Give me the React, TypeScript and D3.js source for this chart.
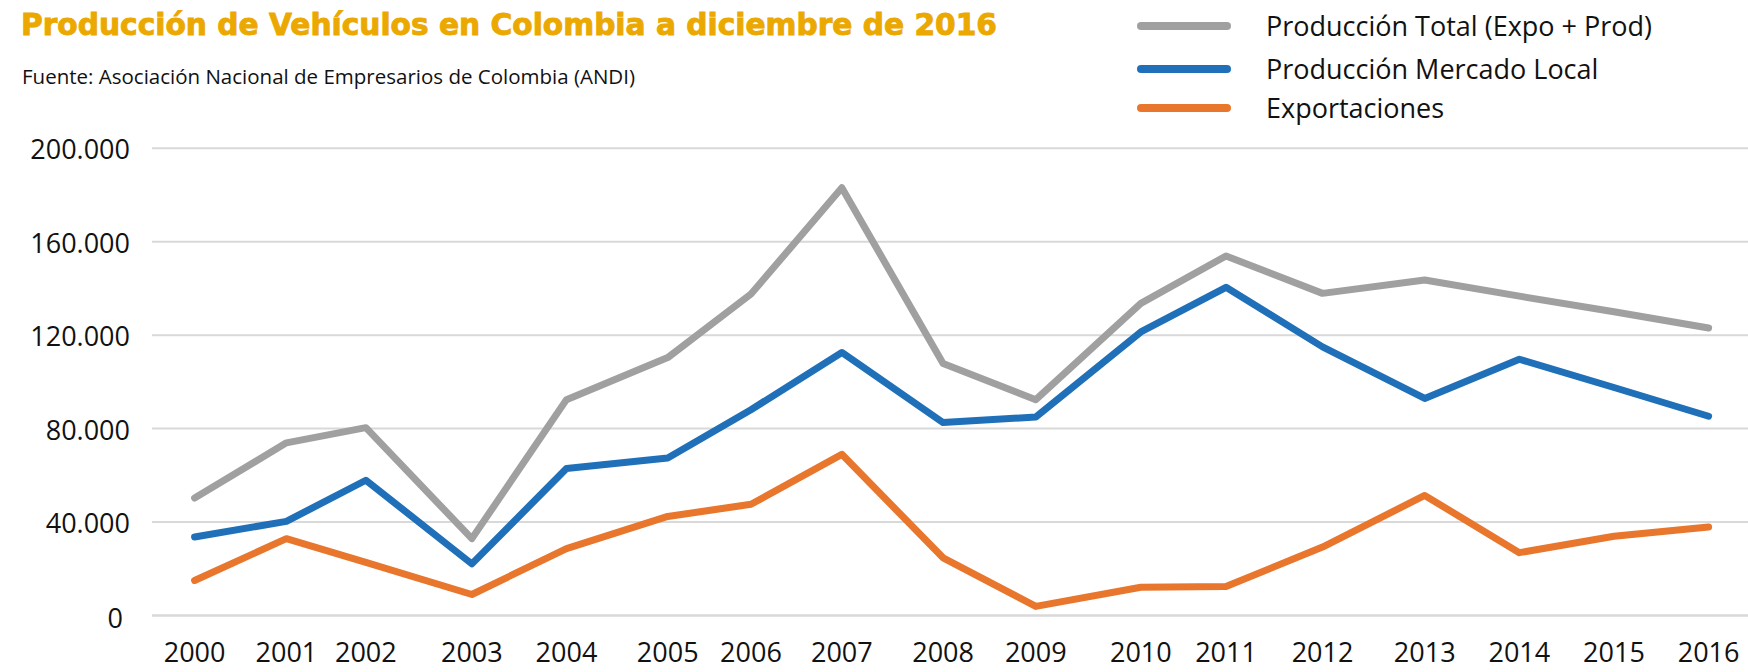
import React from "react";
import * as d3 from "d3";

const years = ["2000","2001","2002","2003","2004","2005","2006","2007","2008","2009","2010","2011","2012","2013","2014","2015","2016"];
// horizontal placement of each year on the (date-like) x axis
const xAt = [2000, 2000.97, 2001.81, 2002.93, 2003.93, 2005.0, 2005.88, 2006.84, 2007.91, 2008.89, 2010.0, 2010.9, 2011.92, 2013.0, 2014.0, 2015.0, 2016.0];
const total = [50300, 73900, 80400, 32900, 92400, 110400, 137600, 183100, 107900, 92400, 133600, 153900, 137900, 143600, 136700, 130000, 123100];
const local = [33600, 40300, 57900, 22100, 62900, 67400, 88100, 112600, 82600, 85000, 121400, 140500, 115000, 92900, 109700, 97600, 85300];
const exportsV = [15000, 32900, 22700, 9000, 28600, 42400, 47600, 69000, 24700, 3900, 12100, 12400, 29300, 51400, 26900, 33900, 37900];
const yTicks = [0, 40000, 80000, 120000, 160000, 200000];
const seriesNames = ["Producción Total (Expo + Prod)", "Producción Mercado Local", "Exportaciones"];
const seriesColors = ["#A0A0A0", "#1F70B8", "#E8762C"];

const W = 1748, H = 672;
const font = "'Open Sans', sans-serif";

export default function App() {
  const x = d3.scaleLinear().domain([2000, 2016]).range([194.6, 1708.6]);
  const y = d3.scaleLinear().domain([0, 200000]).range([615.5, 148.3]);
  const series = [total, local, exportsV];
  const line = d3.line<number>().x((_, i) => x(xAt[i])).y((d) => y(d));
  const fmt = (v: number) => d3.format(",")(v).replace(/,/g, ".");
  const legendY = [26, 69, 108];

  return (
    <svg width={W} height={H} style={{ position: "absolute", left: 0, top: 0, background: "#fff" }}>
      <rect width={W} height={H} fill="#fff" />
      <text x={21} y={35} fontFamily="'DejaVu Sans', sans-serif" fontWeight="bold" fontSize={29.5}
        fill="#EBA800" stroke="#EBA800" strokeWidth={0.9} textLength={976} lengthAdjust="spacingAndGlyphs">
        Producción de Vehículos en Colombia a diciembre de 2016
      </text>
      <text x={22} y={84} fontFamily={font} fontSize={20.5} fill="#111">
        Fuente: Asociación Nacional de Empresarios de Colombia (ANDI)
      </text>
      {yTicks.map((t) => (
        <g key={t}>
          <line x1={152} x2={W} y1={y(t)} y2={y(t)} stroke="#D9D9D9" strokeWidth={t === 0 ? 2.5 : 2} />
          <text x={t === 0 ? 123 : 130} y={y(t) + (t === 0 ? 12 : 11)} textAnchor="end" fontFamily={font} fontSize={27} fill="#111">
            {fmt(t)}
          </text>
        </g>
      ))}
      {years.map((yr, i) => (
        <text key={yr} x={x(xAt[i])} y={662} textAnchor="middle" fontFamily={font} fontSize={27} fill="#111">
          {yr}
        </text>
      ))}
      {series.map((s, k) => (
        <path key={k} d={line(s) || ""} fill="none" stroke={seriesColors[k]} strokeWidth={7}
          strokeLinecap="round" strokeLinejoin="round" />
      ))}
      {seriesNames.map((n, k) => (
        <g key={n}>
          <line x1={1141} x2={1227} y1={legendY[k]} y2={legendY[k]} stroke={seriesColors[k]} strokeWidth={8} strokeLinecap="round" />
          <text x={1266} y={legendY[k] + 9.5} fontFamily={font} fontSize={27} fill="#111">{n}</text>
        </g>
      ))}
    </svg>
  );
}
